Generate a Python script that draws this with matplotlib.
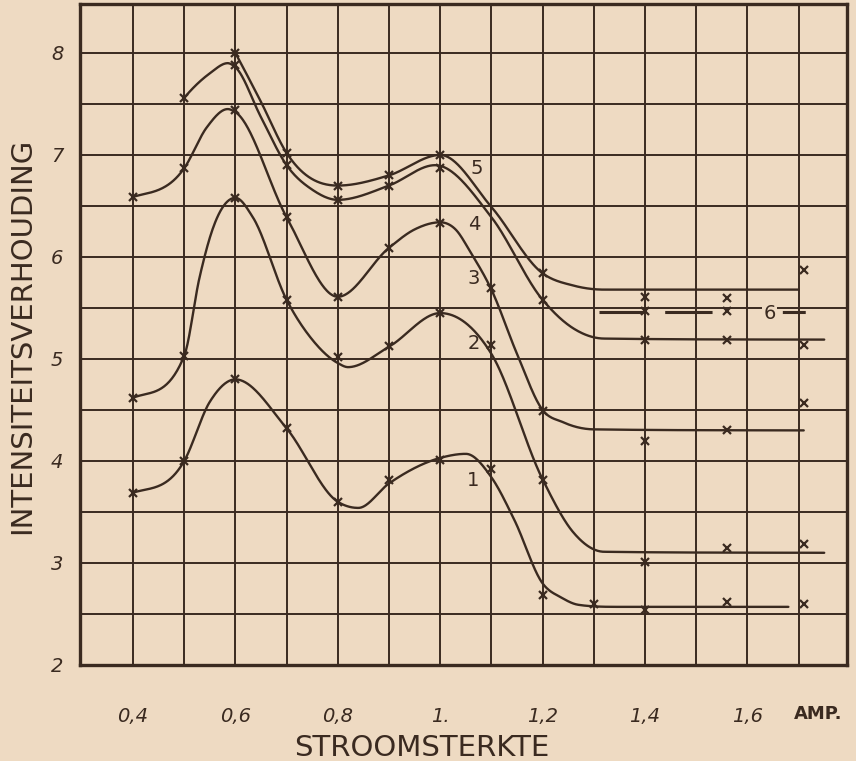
import numpy as np
import matplotlib
matplotlib.use('Agg')
import matplotlib.pyplot as plt

paper = '#eedac2'
ink = '#3a2a20'

# drawn curves
c1_x = [0.4, 0.5, 0.55, 0.6, 0.7, 0.8, 0.84, 0.9, 1.0, 1.05, 1.1, 1.145, 1.2, 1.237, 1.27, 1.35, 1.68]
c1_y = [3.69, 4.0, 4.58, 4.8, 4.32, 3.6, 3.54, 3.78, 4.03, 4.07, 3.84, 3.42, 2.8, 2.66, 2.59, 2.57, 2.57]
c2_x = [0.4, 0.5, 0.53, 0.556, 0.6, 0.634, 0.7, 0.75, 0.8, 0.82, 0.9, 1.0, 1.1, 1.2, 1.26, 1.32, 1.75]
c2_y = [4.62, 5.03, 5.8, 6.28, 6.58, 6.39, 5.58, 5.19, 4.96, 4.92, 5.12, 5.45, 5.05, 3.82, 3.3, 3.11, 3.1]
c3_x = [0.4, 0.5, 0.544, 0.585, 0.6, 0.7, 0.8, 0.9, 0.95, 1.0, 1.03, 1.06, 1.1, 1.15, 1.2, 1.24, 1.3, 1.71]
c3_y = [6.59, 6.87, 7.27, 7.45, 7.42, 6.39, 5.61, 6.09, 6.27, 6.34, 6.27, 6.04, 5.68, 5.05, 4.5, 4.38, 4.31, 4.3]
c4_x = [0.5, 0.55, 0.585, 0.6, 0.65, 0.7, 0.75, 0.8, 0.9, 0.99, 1.1, 1.2, 1.26, 1.32, 1.75]
c4_y = [7.56, 7.8, 7.9, 7.86, 7.37, 6.9, 6.66, 6.56, 6.7, 6.9, 6.39, 5.58, 5.3, 5.2, 5.19]
c5_x = [0.6, 0.65, 0.7, 0.8, 0.9, 1.0, 1.1, 1.2, 1.26, 1.32, 1.7]
c5_y = [8.0, 7.52, 7.02, 6.70, 6.80, 7.0, 6.49, 5.84, 5.72, 5.68, 5.68]
c6_x = [1.31, 1.73]
c6_y = [5.46, 5.46]

# measured points (crosses)
m1_x = [0.4, 0.5, 0.6, 0.7, 0.8, 0.9, 1.0, 1.1, 1.2, 1.3, 1.4, 1.56, 1.71]
m1_y = [3.69, 4.0, 4.8, 4.32, 3.6, 3.81, 4.01, 3.92, 2.69, 2.6, 2.54, 2.62, 2.6]
m2_x = [0.4, 0.5, 0.6, 0.7, 0.8, 0.9, 1.0, 1.1, 1.2, 1.4, 1.56, 1.71]
m2_y = [4.62, 5.03, 6.58, 5.58, 5.02, 5.13, 5.45, 5.14, 3.81, 3.01, 3.15, 3.19]
m3_x = [0.4, 0.5, 0.6, 0.7, 0.8, 0.9, 1.0, 1.1, 1.2, 1.4, 1.56, 1.71]
m3_y = [6.59, 6.87, 7.44, 6.39, 5.61, 6.09, 6.33, 5.7, 4.49, 4.2, 4.3, 4.57]
m4_x = [0.5, 0.6, 0.7, 0.8, 0.9, 1.0, 1.2, 1.4, 1.56, 1.71]
m4_y = [7.56, 7.88, 6.9, 6.56, 6.7, 6.87, 5.58, 5.19, 5.19, 5.14]
m5_x = [0.6, 0.7, 0.8, 0.9, 1.0, 1.2, 1.4, 1.56, 1.71]
m5_y = [8.0, 7.02, 6.70, 6.80, 7.0, 5.84, 5.61, 5.6, 5.87]
m6_x = [1.4, 1.56]
m6_y = [5.47, 5.47]

curve_names = ['1', '2', '3', '4', '5', '6']
label_x = [1.065, 1.065, 1.066, 1.066, 1.071, 1.643]
label_y = [3.81, 5.15, 5.79, 6.32, 6.87, 5.45]

x_ticks = [0.4, 0.6, 0.8, 1.0, 1.2, 1.4, 1.6]
x_tick_labels = ['0,4', '0,6', '0,8', '1.', '1,2', '1,4', '1,6']
y_ticks = [2, 3, 4, 5, 6, 7, 8]


def end_slope(h0, h1, d0, d1):
    s = ((2 * h0 + h1) * d0 - h0 * d1) / (h0 + h1)
    if s * d0 <= 0:
        return 0.5 * d0
    if d0 * d1 < 0 and abs(s) > 3 * abs(d0):
        return 3 * d0
    return s


def smooth(x, y, xs):
    # cubic hermite through the read points, slopes limited so it does not overshoot
    x = np.asarray(x, float)
    y = np.asarray(y, float)
    h = np.diff(x)
    d = np.diff(y) / h
    m = np.zeros_like(y)
    for k in range(1, len(x) - 1):
        if d[k - 1] * d[k] > 0:
            s = (d[k - 1] * h[k] + d[k] * h[k - 1]) / (h[k - 1] + h[k])
            lim = 3 * min(abs(d[k - 1]), abs(d[k]))
            m[k] = np.sign(s) * min(abs(s), lim)
    m[0] = end_slope(h[0], h[1], d[0], d[1])
    m[-1] = end_slope(h[-1], h[-2], d[-1], d[-2])
    i = np.clip(np.searchsorted(x, xs) - 1, 0, len(h) - 1)
    t = (xs - x[i]) / h[i]
    return ((2 * t**3 - 3 * t**2 + 1) * y[i] + (t**3 - 2 * t**2 + t) * h[i] * m[i]
            + (-2 * t**3 + 3 * t**2) * y[i + 1] + (t**3 - t**2) * h[i] * m[i + 1])


fig = plt.figure(figsize=(8.56, 7.61), dpi=100, facecolor=paper)
ax = fig.add_axes([80 / 856, 1 - 665 / 761, 767 / 856, 661 / 761])
ax.set_facecolor(paper)
ax.set_xlim(0.2965, 1.7945)
ax.set_ylim(2.0, 8.48)

for gx in np.arange(0.4, 1.75, 0.1):
    ax.axvline(gx, color=ink, lw=1.4, zorder=1)
for gy in np.arange(2.5, 8.1, 0.5):
    ax.axhline(gy, color=ink, lw=1.4, zorder=1)

for xs, ys in [(c1_x, c1_y), (c2_x, c2_y), (c3_x, c3_y), (c4_x, c4_y), (c5_x, c5_y)]:
    xx = np.linspace(xs[0], xs[-1], 800)
    ax.plot(xx, smooth(xs, ys, xx), color=ink, lw=1.7, zorder=3, solid_capstyle='round')

ax.plot(c6_x, c6_y, color=ink, lw=2.2, zorder=3,
        linestyle=(0, (14.5, 7, 15.5, 23, 7.5, 60)))

for xs, ys in [(m1_x, m1_y), (m2_x, m2_y), (m3_x, m3_y), (m4_x, m4_y), (m5_x, m5_y), (m6_x, m6_y)]:
    ax.plot(xs, ys, 'x', color=ink, ms=6, mew=1.6, zorder=4)

for name, lx, ly in zip(curve_names, label_x, label_y):
    ax.text(lx, ly, name, color=ink, fontsize=14, ha='center', va='center', zorder=5,
            bbox=dict(boxstyle='square,pad=0.05', fc=paper, ec='none') if name == '6' else None)

for s in ax.spines.values():
    s.set_color(ink)
    s.set_linewidth(2.4)

ax.set_xticks(x_ticks)
ax.set_xticklabels(x_tick_labels, fontsize=14, style='italic', color=ink)
ax.set_yticks(y_ticks)
ax.set_yticklabels([str(v) for v in y_ticks], fontsize=14, style='italic', color=ink)
ax.tick_params(axis='x', length=0, pad=30)
ax.tick_params(axis='y', length=0, pad=12)

fig.text(818 / 856, 1 - 714 / 761, 'AMP.', fontsize=13, fontweight='bold', color=ink,
         ha='center', va='center')
fig.text(422 / 856, 1 - 748 / 761, 'STROOMSTERKTE', fontsize=21, color=ink,
         ha='center', va='center')
fig.text(22 / 856, 1 - 336 / 761, 'INTENSITEITSVERHOUDING', fontsize=21, color=ink,
         ha='center', va='center', rotation=90)

plt.savefig('out.png', dpi=100, facecolor=paper)
